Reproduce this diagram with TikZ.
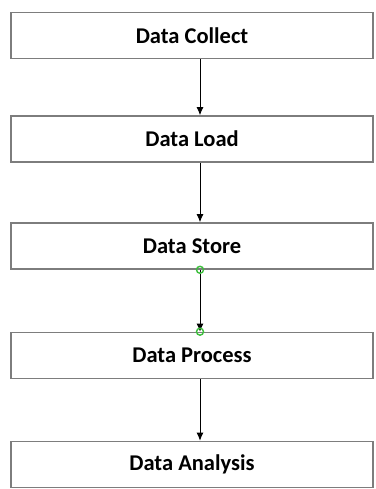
\documentclass[tikz,border=0pt]{standalone}
\usepackage{fontspec}
\setmainfont{Carlito}
\usepackage{tikz}
\usetikzlibrary{arrows.meta}

\definecolor{boxgray}{RGB}{125,125,125}
\definecolor{handle}{RGB}{60,190,60}

\tikzset{
  stage/.style={draw=boxgray,line width=1.6pt,fill=white,minimum width=362pt,
    minimum height=46pt,inner sep=0pt,font=\fontsize{22.5}{26}\selectfont\bfseries},
  flow/.style={-{Latex[length=8pt,width=7pt]},line width=0.9pt,black}
}

\begin{document}
\begin{tikzpicture}[x=1pt,y=-1pt]
		\useasboundingbox (0,0) rectangle (375,489);

		\node[stage] (collect) at (192,35.5) {Data Collect};
		\node[stage] (load) at (192,139) {Data Load};
		\node[stage] (store) at (192,246) {Data Store};
		\node[stage] (process) at (192,355.5) {Data Process};
		\node[stage] (analysis) at (192,464.5) {Data Analysis};

		\draw[flow] ([xshift=8pt]collect.south) -- ([xshift=8pt]load.north);
		\draw[flow] ([xshift=8pt]load.south) -- ([xshift=8pt]store.north);
		\draw[flow] ([xshift=8pt]store.south) -- ([xshift=8pt]process.north);
		\draw[flow] ([xshift=8pt]process.south) -- ([xshift=8pt]analysis.north);

		% end handles of the selected connector
		\draw[handle,line width=1.4pt] ([xshift=8pt]store.south) circle [radius=3.5pt];
		\draw[handle,line width=1.4pt] ([xshift=8pt]process.north) circle [radius=3.5pt];

	\end{tikzpicture}
\end{document}
